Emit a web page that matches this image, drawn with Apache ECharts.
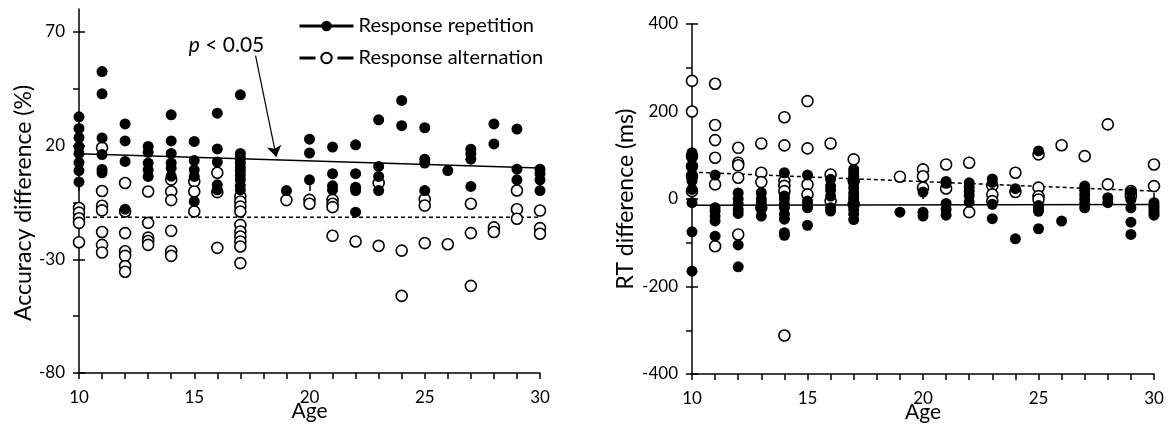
<!doctype html>
<html>
<head>
<meta charset="utf-8">
<title>Accuracy and RT difference by age</title>
<script src="https://cdn.jsdelivr.net/npm/echarts@6/dist/echarts.min.js"></script>
<style>
  html, body { margin: 0; background: #fff; }
  #main { width: 1170px; height: 427px; }
</style>
</head>
<body>
<div id="main"></div>
<script>
// ---- data, grouped by age ----
var accRepetition = [
  [10, [32.6, 27.5, 23.5, 19.5, 16.5, 12.5, 9, 4]],
  [11, [52.5, 42.7, 23.3, 16, 9.5, 8]],
  [12, [29.5, 22, 13, -8]],
  [13, [19.6, 17, 12.3, 9.3, 6.4]],
  [14, [33.5, 22, 16.5, 12.3, 10, 6.5]],
  [15, [21.8, 13.4, 9.3, 6.4, -4.6]],
  [16, [34.2, 18.5, 12.7, 2.7, 0.5]],
  [17, [42.3, 16.5, 14.5, 12.5, 10.5, 9, 7, 5, 2.5, 0.5]],
  [19, [0.2]],
  [20, [22.8, 16.7, 4.9]],
  [21, [19.3, 7.6, 2.3, 0.5]],
  [22, [20.3, 7.6, 1.7, 0.2, -9.3]],
  [23, [31.3, 10.8, 6.4, 0.2]],
  [24, [39.8, 28.7]],
  [25, [27.8, 14, 12.3, 0.2]],
  [26, [9]],
  [27, [18.4, 16.4, 14, 2]],
  [28, [29.5, 20.7]],
  [29, [27.2, 9.6, 4.9]],
  [30, [9.6, 7.6, 4.9, 0.2]]
];
var accAlternation = [
  [10, [-7.5, -9.5, -12, -14, -22.5]],
  [11, [19, 0, -6.5, -8.5, -18, -23.7, -27]],
  [12, [3.5, -9, -18.5, -26.5, -28.5, -33, -35.5]],
  [13, [-0.2, -14, -20.5, -22, -23.7]],
  [14, [5, -0.2, -4, -17.5, -26.5, -28.5]],
  [15, [4.2, -0.2, -9]],
  [16, [8, -0.5, -25]],
  [17, [-2.4, -4.6, -6.8, -9, -14.9, -17.8, -20, -22.2, -24.4, -31.7]],
  [19, [-4]],
  [20, [-3.9, -5.6]],
  [21, [-3.9, -5.6, -7.1, -19.7]],
  [22, [-22.2]],
  [23, [3.5, -24.1]],
  [24, [-26.2, -46.1]],
  [25, [-3.6, -6.4, -22.9]],
  [26, [-23.4]],
  [27, [-5.6, -18.5, -41.7]],
  [28, [-16, -18]],
  [29, [0.2, -8, -12.2]],
  [30, [-8.6, -16.3, -18.8]]
];
var rtRepetition = [
  [10, [106, 94, 75, 56, 41, 22, -8.5, -75, -165]],
  [11, [54.6, -20, -28, -39, -50, -85]],
  [12, [14, 0, -12, -24, -33, -105, -155]],
  [13, [14.4, 0, -8.5, -20, -39]],
  [14, [60, 7, 0, -12, -20, -35, -46, -77, -83]],
  [15, [54.6, -4.8, -12, -20, -60]],
  [16, [45, 29.5, 20, 6.6, -20, -27.7]],
  [17, [68, 60, 52, 37, 26, 14, 5, -1, -12, -24, -35, -47]],
  [19, [-30]],
  [20, [15.8, -30, -39]],
  [21, [40, 36, -10, -24, -37]],
  [22, [37, 27, 18, 8, -7]],
  [23, [46, 38, -12, -45]],
  [24, [23.5, -91]],
  [25, [110, -15, -22, -28, -68]],
  [26, [-50.5]],
  [27, [29.5, 20, 10, 0, -10, -20]],
  [28, [3, -8.5]],
  [29, [16, -1, -20, -53, -81]],
  [30, [-8.5, -15, -20, -26, -32, -37]]
];
var rtAlternation = [
  [10, [270, 200, 98, 75, 52, 18]],
  [11, [263.5, 169, 134.6, 94.4, 33.4, -108]],
  [12, [117, 83, 77, 48.7, -81]],
  [13, [127, 60, 38.6, -20]],
  [14, [187, 122.5, 41, 30, 18, -312]],
  [15, [223.8, 115.7, 33, 10.5]],
  [16, [127, 56, -4.8]],
  [17, [90.5, 41, -12]],
  [19, [51]],
  [20, [67.7, 52, 26]],
  [21, [79, 24]],
  [22, [83, -30]],
  [23, [30, 10.5, -4.8]],
  [24, [60, 16]],
  [25, [102, 26, 6.6, -1]],
  [26, [123]],
  [27, [98]],
  [28, [170.5, 33.4]],
  [29, [18, 12, 6.6]],
  [30, [79, 29.5]]
];

// fitted trend lines (end points)
var accRepFit = [[10, 16.4], [30, 10.1]];
var accAltFit = [[10, -11.5], [30, -11.5]];
var rtRepFit = [[10, -14], [30, -12.5]];
var rtAltFit = [[10, 61.5], [30, 18]];

// annotation
var pLabelAt = [16.4, 64];
var pArrow = [[17.66, 59.5], [18.56, 15]];

// axes ticks / labels
var ageLabels = [10, 15, 20, 25, 30];
var ageTicks = [10, 11, 12, 13, 14, 15, 16, 17, 18, 19, 20, 21, 22, 23, 24, 25, 26, 27, 28, 29, 30];
var accLabels = [-80, -30, 20, 70];
var accTicks = [-80, -55, -30, -5, 20, 45, 70];
var rtLabels = [-400, -200, 0, 200, 400];
var rtTicks = [-400, -300, -200, -100, 0, 100, 200, 300, 400];

function flatten(groups) {
  var out = [];
  groups.forEach(function (g) {
    g[1].forEach(function (v) { out.push([g[0], v]); });
  });
  return out;
}

var FONT = 'Lato';
var black = '#000';

function xAxisFor(grid) {
  return {
    gridIndex: grid, type: 'value', min: 10, max: 30, position: 'bottom',
    name: 'Age', nameLocation: 'middle', nameGap: 28, nameMoveOverlap: false,
    nameTextStyle: { fontSize: 21, color: black, fontFamily: FONT },
    axisLine: { show: true, onZero: false, lineStyle: { color: black, width: 1.5 } },
    axisTick: { show: true, length: 6, customValues: ageTicks, lineStyle: { color: black, width: 1.5 } },
    axisLabel: { customValues: ageLabels, color: black, fontSize: 17, margin: 16, fontFamily: FONT },
    splitLine: { show: false }
  };
}
function xTwin(grid) {
  return {
    gridIndex: grid, type: 'value', min: 10, max: 30, position: 'bottom',
    axisLine: { show: false }, axisLabel: { show: false }, splitLine: { show: false },
    axisTick: { show: true, inside: true, length: 6, customValues: ageLabels, lineStyle: { color: black, width: 1.5 } }
  };
}
function yTwin(grid, min, max, labels) {
  return {
    gridIndex: grid, type: 'value', min: min, max: max, position: 'left',
    axisLine: { show: false }, axisLabel: { show: false }, splitLine: { show: false },
    axisTick: { show: true, inside: true, length: 6, customValues: labels, lineStyle: { color: black, width: 1.5 } }
  };
}

var chart = echarts.init(document.getElementById('main'), null, { renderer: 'canvas' });

chart.setOption({
  animation: false,
  backgroundColor: '#fff',
  textStyle: { fontFamily: FONT },
  grid: [
    { left: 79, right: 630, top: 9, bottom: 54, outerBoundsMode: 'none' },
    { left: 692, right: 16, top: 24, bottom: 53, outerBoundsMode: 'none' }
  ],
  legend: {
    data: [
      { name: 'Response repetition' },
      { name: 'Response alternation', lineStyle: { type: [16, 22], width: 3 } }
    ],
    orient: 'vertical',
    left: 298, top: 16, padding: 0,
    itemWidth: 54, itemHeight: 13, itemGap: 12,
    lineStyle: { width: 3 },
    textStyle: { fontSize: 20, color: black, fontFamily: FONT },
    selectedMode: false
  },
  xAxis: [xAxisFor(0), xAxisFor(1), xTwin(0), xTwin(1)],
  yAxis: [
    {
      gridIndex: 0, type: 'value', min: -80, max: 80, position: 'left',
      name: 'Accuracy difference (%)', nameLocation: 'middle', nameGap: 44,
      nameTextStyle: { fontSize: 23, color: black, fontFamily: FONT, padding: [0, 24, 0, 0] },
      axisLine: { show: true, onZero: false, lineStyle: { color: black, width: 1.5 } },
      axisTick: { show: true, length: 6, customValues: accTicks, lineStyle: { color: black, width: 1.5 } },
      axisLabel: { customValues: accLabels, color: black, fontSize: 17, margin: 14, fontFamily: FONT },
      splitLine: { show: false }
    },
    {
      gridIndex: 1, type: 'value', min: -400, max: 400, position: 'left',
      name: 'RT difference (ms)', nameLocation: 'middle', nameGap: 55,
      nameTextStyle: { fontSize: 23, color: black, fontFamily: FONT },
      axisLine: { show: true, onZero: false, lineStyle: { color: black, width: 1.5 } },
      axisTick: { show: true, length: 6, customValues: rtTicks, lineStyle: { color: black, width: 1.5 } },
      axisLabel: { customValues: rtLabels, color: black, fontSize: 17, margin: 14, fontFamily: FONT },
      splitLine: { show: false }
    },
    yTwin(0, -80, 80, accLabels),
    yTwin(1, -400, 400, rtLabels)
  ],
  series: [
    {
      name: 'Response repetition', type: 'line', xAxisIndex: 0, yAxisIndex: 0,
      data: accRepFit, symbol: 'circle', symbolSize: 12, showSymbol: false, silent: true, z: 1,
      lineStyle: { color: black, width: 1.5 }, itemStyle: { color: black },
      markPoint: {
        silent: true, symbol: 'circle', symbolSize: 0,
        label: {
          show: true, position: 'inside', formatter: '{i|p} < 0.05',
          color: black, fontSize: 21, fontFamily: FONT,
          rich: { i: { fontStyle: 'italic', fontSize: 21, color: black, fontFamily: FONT } }
        },
        data: [{ coord: pLabelAt }]
      },
      markLine: {
        silent: true, symbol: ['none', 'arrow'], symbolSize: 11,
        label: { show: false },
        lineStyle: { color: black, width: 1.2, type: 'solid' },
        data: [[{ coord: pArrow[0] }, { coord: pArrow[1] }]]
      }
    },
    {
      name: 'Response alternation', type: 'line', xAxisIndex: 0, yAxisIndex: 0,
      data: accAltFit, symbol: 'emptyCircle', symbolSize: 12, showSymbol: false, silent: true, z: 1,
      lineStyle: { color: black, width: 1.5, type: [4, 3] }, itemStyle: { color: black, borderWidth: 2 }
    },
    {
      name: 'acc-alt', type: 'scatter', xAxisIndex: 0, yAxisIndex: 0, data: flatten(accAlternation),
      symbol: 'circle', symbolSize: 11, z: 2,
      itemStyle: { color: '#fff', borderColor: black, borderWidth: 1.6, opacity: 1 }
    },
    {
      name: 'acc-rep', type: 'scatter', xAxisIndex: 0, yAxisIndex: 0, data: flatten(accRepetition),
      symbol: 'circle', symbolSize: 11, z: 3,
      itemStyle: { color: black, opacity: 1 }
    },
    {
      name: 'rt-rep-fit', type: 'line', xAxisIndex: 1, yAxisIndex: 1,
      data: rtRepFit, showSymbol: false, silent: true, z: 1,
      lineStyle: { color: black, width: 1.5 }
    },
    {
      name: 'rt-alt-fit', type: 'line', xAxisIndex: 1, yAxisIndex: 1,
      data: rtAltFit, showSymbol: false, silent: true, z: 1,
      lineStyle: { color: black, width: 1.5, type: [4, 3] }
    },
    {
      name: 'rt-alt', type: 'scatter', xAxisIndex: 1, yAxisIndex: 1, data: flatten(rtAlternation),
      symbol: 'circle', symbolSize: 11, z: 2,
      itemStyle: { color: '#fff', borderColor: black, borderWidth: 1.6, opacity: 1 }
    },
    {
      name: 'rt-rep', type: 'scatter', xAxisIndex: 1, yAxisIndex: 1, data: flatten(rtRepetition),
      symbol: 'circle', symbolSize: 11, z: 3,
      itemStyle: { color: black, opacity: 1 }
    }
  ]
});

window.onresize = chart.resize;
</script>
</body>
</html>
